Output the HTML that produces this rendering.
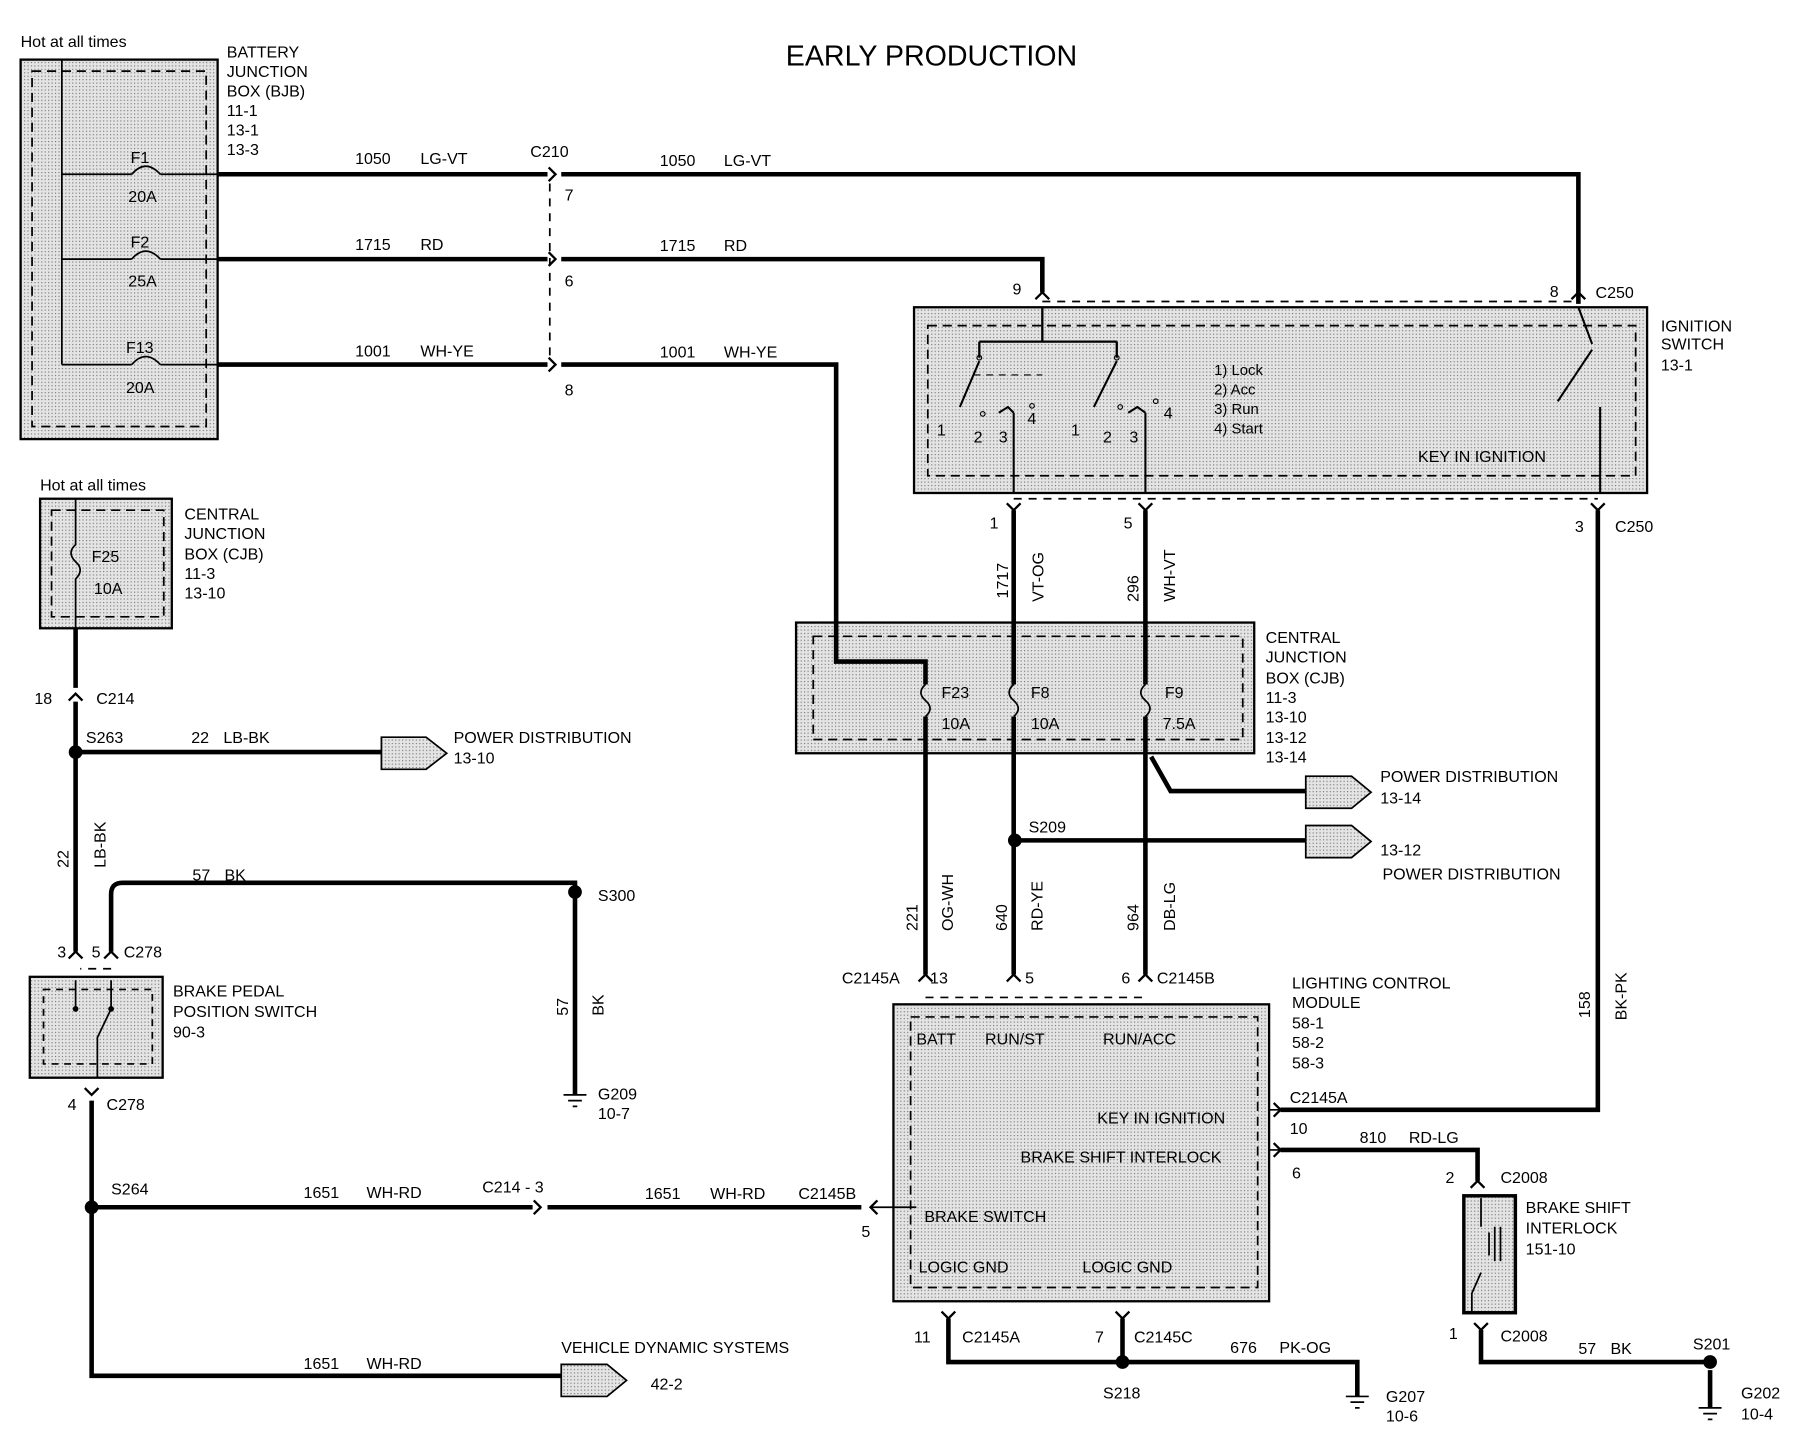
<!DOCTYPE html>
<html><head><style>
html,body{margin:0;padding:0;background:#fff;}
svg{display:block;}
text{font-family:"Liberation Sans",sans-serif;font-size:14px;fill:#000;}
</style></head><body>
<svg width="1796" height="1440" viewBox="0 0 1568 1256" preserveAspectRatio="none" xmlns="http://www.w3.org/2000/svg">
<defs>
<pattern id="dots" width="3" height="3" patternUnits="userSpaceOnUse">
<rect width="3" height="3" fill="#e4e4e4"/><rect width="1" height="1" fill="#777"/>
</pattern>
</defs>
<g fill="none" stroke="#000">
<rect x="18" y="52" width="172" height="331" fill="url(#dots)" stroke-width="2"/>
<rect x="28" y="62" width="152" height="310" stroke-dasharray="8,5" stroke-width="1.5"/>
<rect x="35" y="435" width="115" height="113" fill="url(#dots)" stroke-width="2"/>
<rect x="45" y="445" width="98" height="93" stroke-dasharray="8,5" stroke-width="1.5"/>
<rect x="798" y="268" width="640" height="162" fill="url(#dots)" stroke-width="2"/>
<rect x="810" y="284" width="618" height="131" stroke-dasharray="8,5" stroke-width="1.5"/>
<rect x="695" y="543" width="400" height="114" fill="url(#dots)" stroke-width="2"/>
<rect x="710" y="555" width="375" height="90" stroke-dasharray="8,5" stroke-width="1.5"/>
<rect x="780" y="876" width="328" height="259" fill="url(#dots)" stroke-width="2"/>
<rect x="795" y="887" width="303" height="236" stroke-dasharray="8,5" stroke-width="1.5"/>
<rect x="26" y="852" width="116" height="88" fill="url(#dots)" stroke-width="2"/>
<rect x="38" y="863" width="95" height="65" stroke-dasharray="6,5" stroke-width="1.5"/>
<rect x="1278" y="1043" width="45" height="102" fill="url(#dots)" stroke-width="3"/>
<path d="M54 52V318M54 152H115M140 152H190M54 226H115M140 226H190M54 318H115M140 318H190" stroke-width="1.5"/>
<path d="M115 152q12-14 25 0M115 226q12-14 25 0M115 318q12-14 25 0" stroke-width="1.5"/>
<g stroke-width="4">
<path d="M190 152H478M490 152H1378V265"/>
<path d="M190 226H478M490 226H910V255"/>
<path d="M190 318H478M490 318H730V577H808V597"/>
<path d="M885 445V597M885 625V850"/>
<path d="M1000 445V597M1000 625V850"/>
<path d="M808 625V850"/>
<path d="M1395 445V968H1118"/>
<path d="M1005 660L1022 690H1140"/>
<path d="M886 733H1140"/>
<path d="M1118 1003H1290V1030"/>
<path d="M1293 1160V1188H1493M1493 1195V1228"/>
<path d="M828 1150V1188H1185V1218"/>
<path d="M980 1150V1188"/>
<path d="M66 548V600M66 612V830"/>
<path d="M66 656H333"/>
<path d="M97 830V780q0-10 10-10H502V955"/>
<path d="M80 960V1200H490"/>
<path d="M80 1053H465M478 1053H752"/>
</g>
<path d="M66 435V475q-8 7 0 15q8 7 0 15V548" stroke-width="1.5"/>
<path d="M808 597q-8 7 0 14q8 7 0 14M885 597q-8 7 0 14q8 7 0 14M1000 597q-8 7 0 14q8 7 0 14" stroke-width="1.5"/>
<path d="M480 160V316" stroke-dasharray="7,6" stroke-width="1.5"/>
<path d="M910 263H1378M885 435H1395M808 870H1000M97 845H70" stroke-dasharray="7,6" stroke-width="1.5"/>
<path d="M910 268V298M855 298H975M855 298V312M975 298V312" stroke-width="2"/>
<path d="M855 315L838 355M975 315L955 355M1390 300L1378 268M1390 305L1360 350M1397 355V430M885 360L880 355L872 360M885 360V430M1000 360L993 355L985 360M1000 360V430" stroke-width="1.8"/>
<path d="M850 327H910" stroke-dasharray="6,5"/>
<circle cx="858" cy="361" r="2"/><circle cx="901" cy="354" r="2"/><circle cx="978" cy="355" r="2"/><circle cx="1009" cy="350" r="2"/><circle cx="855" cy="312" r="2"/><circle cx="975" cy="312" r="2"/>
<g stroke-width="2">
<path d="M479 146l6 6-6 6M479 220l6 6-6 6M479 312l6 6-6 6"/>
<path d="M904 261l6-6 6 6M1372 261l6-6 6 6"/>
<path d="M879 439l6 6 6-6M994 439l6 6 6-6M1389 439l6 6 6-6"/>
<path d="M802 856l6-6 6 6M879 856l6-6 6 6M994 856l6-6 6 6"/>
<path d="M1112 962l6 6-6 6M1112 997l6 6-6 6"/>
<path d="M1284 1036l6-6 6 6M1287 1154l6 6 6-6"/>
<path d="M822 1144l6 6 6-6M974 1144l6 6 6-6"/>
<path d="M60 611l6-6 6 6M60 836l6-6 6 6M91 836l6-6 6 6M74 949l6 6 6-6"/>
<path d="M466 1047l6 6-6 6M766 1047l-6 6 6 6"/>
</g>
<path d="M66 855V880M97 855V880L85 905V940M1108 968H1118M1108 1003H1118M760 1053H800" stroke-width="1.5"/>
<path d="M1293 1045V1070M1293 1110L1285 1128V1145M1300 1075v20M1305 1070v30M1310 1070v30" stroke-width="1.5"/>
<path d="M333 643H372L390 657L372 671H333Z" fill="url(#dots)" stroke-width="1.5"/>
<path d="M1140 677H1180L1197 691L1180 705H1140Z" fill="url(#dots)" stroke-width="1.5"/>
<path d="M1140 720H1180L1197 734L1180 748H1140Z" fill="url(#dots)" stroke-width="1.5"/>
<path d="M490 1190H530L547 1204L530 1218H490Z" fill="url(#dots)" stroke-width="1.5"/>
<path d="M492 955H512M496 960H508M500 965H504M1175 1218H1195M1179 1223H1191M1183 1228H1187M1483 1228H1503M1487 1233H1499M1491 1238H1495" stroke-width="1.5"/>
</g>
<g fill="#000">
<circle cx="66" cy="656" r="6"/><circle cx="502" cy="778" r="6"/><circle cx="886" cy="733" r="6"/>
<circle cx="80" cy="1053" r="6"/><circle cx="980" cy="1188" r="6"/><circle cx="1493" cy="1188" r="6"/>
<circle cx="66" cy="880" r="2.5"/><circle cx="97" cy="880" r="2.5"/>
</g>
<text x="686" y="57" style="font-size:25px">EARLY PRODUCTION</text>
<text x="18" y="41">Hot at all times</text>
<text x="198" y="50">BATTERY</text><text x="198" y="67">JUNCTION</text><text x="198" y="84">BOX (BJB)</text><text x="198" y="101">11-1</text><text x="198" y="118">13-1</text><text x="198" y="135">13-3</text>
<text x="114" y="142">F1</text><text x="112" y="176">20A</text>
<text x="114" y="216">F2</text><text x="112" y="250">25A</text>
<text x="110" y="308">F13</text><text x="110" y="343">20A</text>
<text x="310" y="143">1050</text><text x="367" y="143">LG-VT</text>
<text x="463" y="137">C210</text>
<text x="576" y="145">1050</text><text x="632" y="145">LG-VT</text>
<text x="310" y="218">1715</text><text x="367" y="218">RD</text>
<text x="576" y="219">1715</text><text x="632" y="219">RD</text>
<text x="310" y="311">1001</text><text x="367" y="311">WH-YE</text>
<text x="576" y="312">1001</text><text x="632" y="312">WH-YE</text>
<text x="493" y="175">7</text><text x="493" y="250">6</text><text x="493" y="345">8</text>
<text x="884" y="257">9</text><text x="1353" y="259">8</text><text x="1393" y="260">C250</text>
<text x="1450" y="289">IGNITION</text><text x="1450" y="305">SWITCH</text><text x="1450" y="323">13-1</text>
<text x="1060" y="327" style="font-size:13px">1) Lock</text><text x="1060" y="344" style="font-size:13px">2) Acc</text><text x="1060" y="361" style="font-size:13px">3) Run</text><text x="1060" y="378" style="font-size:13px">4) Start</text>
<text x="818" y="380">1</text><text x="850" y="386">2</text><text x="872" y="386">3</text><text x="897" y="370">4</text>
<text x="935" y="380">1</text><text x="963" y="386">2</text><text x="986" y="386">3</text><text x="1016" y="365">4</text>
<text x="1238" y="403">KEY IN IGNITION</text>
<text x="864" y="461">1</text><text x="981" y="461">5</text><text x="1375" y="464">3</text><text x="1410" y="464">C250</text>
<text transform="translate(880,522) rotate(-90)">1717</text><text transform="translate(911,525) rotate(-90)">VT-OG</text>
<text transform="translate(994,525) rotate(-90)">296</text><text transform="translate(1026,525) rotate(-90)">WH-VT</text>
<text x="1105" y="561">CENTRAL</text><text x="1105" y="578">JUNCTION</text><text x="1105" y="596">BOX (CJB)</text><text x="1105" y="613">11-3</text><text x="1105" y="630">13-10</text><text x="1105" y="648">13-12</text><text x="1105" y="665">13-14</text>
<text x="822" y="609">F23</text><text x="822" y="636">10A</text><text x="900" y="609">F8</text><text x="900" y="636">10A</text><text x="1017" y="609">F9</text><text x="1015" y="636">7.5A</text>
<text x="1205" y="682">POWER DISTRIBUTION</text><text x="1205" y="701">13-14</text>
<text x="898" y="726">S209</text>
<text x="1205" y="746">13-12</text><text x="1207" y="767">POWER DISTRIBUTION</text>
<text transform="translate(801,812) rotate(-90)">221</text><text transform="translate(832,812) rotate(-90)">OG-WH</text>
<text transform="translate(879,812) rotate(-90)">640</text><text transform="translate(910,812) rotate(-90)">RD-YE</text>
<text transform="translate(994,812) rotate(-90)">964</text><text transform="translate(1026,812) rotate(-90)">DB-LG</text>
<text transform="translate(1388,888) rotate(-90)">158</text><text transform="translate(1420,890) rotate(-90)">BK-PK</text>
<text x="735" y="858">C2145A</text><text x="812" y="858">13</text><text x="895" y="858">5</text><text x="979" y="858">6</text><text x="1010" y="858">C2145B</text>
<text x="1128" y="862">LIGHTING  CONTROL</text><text x="1128" y="879">MODULE</text><text x="1128" y="897">58-1</text><text x="1128" y="914">58-2</text><text x="1128" y="932">58-3</text>
<text x="800" y="911">BATT</text><text x="860" y="911">RUN/ST</text><text x="963" y="911">RUN/ACC</text>
<text x="958" y="980">KEY IN IGNITION</text><text x="891" y="1014">BRAKE SHIFT INTERLOCK</text>
<text x="807" y="1066">BRAKE SWITCH</text><text x="802" y="1110">LOGIC GND</text><text x="945" y="1110">LOGIC GND</text>
<text x="1126" y="962">C2145A</text><text x="1126" y="989">10</text><text x="1128" y="1028">6</text>
<text x="1187" y="997">810</text><text x="1230" y="997">RD-LG</text>
<text x="1262" y="1032">2</text><text x="1310" y="1032">C2008</text>
<text x="1332" y="1058">BRAKE SHIFT</text><text x="1332" y="1076">INTERLOCK</text><text x="1332" y="1094">151-10</text>
<text x="1265" y="1168">1</text><text x="1310" y="1170">C2008</text>
<text x="1378" y="1181">57</text><text x="1406" y="1181">BK</text><text x="1478" y="1177">S201</text>
<text x="1520" y="1220">G202</text><text x="1520" y="1238">10-4</text>
<text x="798" y="1171">11</text><text x="840" y="1171">C2145A</text><text x="956" y="1171">7</text><text x="990" y="1171">C2145C</text>
<text x="1074" y="1180">676</text><text x="1117" y="1180">PK-OG</text>
<text x="963" y="1220">S218</text><text x="1210" y="1223">G207</text><text x="1210" y="1240">10-6</text>
<text x="697" y="1046">C2145B</text><text x="752" y="1079">5</text>
<text x="35" y="428">Hot at all times</text>
<text x="161" y="453">CENTRAL</text><text x="161" y="470">JUNCTION</text><text x="161" y="488">BOX (CJB)</text><text x="161" y="505">11-3</text><text x="161" y="522">13-10</text>
<text x="80" y="490">F25</text><text x="82" y="518">10A</text>
<text x="30" y="614">18</text><text x="84" y="614">C214</text>
<text x="75" y="648">S263</text><text x="167" y="648">22</text><text x="195" y="648">LB-BK</text>
<text x="396" y="648">POWER DISTRIBUTION</text><text x="396" y="666">13-10</text>
<text transform="translate(60,757) rotate(-90)">22</text><text transform="translate(92,757) rotate(-90)">LB-BK</text>
<text x="168" y="768">57</text><text x="196" y="768">BK</text><text x="522" y="786">S300</text>
<text transform="translate(496,886) rotate(-90)">57</text><text transform="translate(527,886) rotate(-90)">BK</text>
<text x="522" y="959">G209</text><text x="522" y="976">10-7</text>
<text x="50" y="835">3</text><text x="80" y="835">5</text><text x="108" y="835">C278</text>
<text x="151" y="869">BRAKE PEDAL</text><text x="151" y="887">POSITION SWITCH</text><text x="151" y="905">90-3</text>
<text x="59" y="968">4</text><text x="93" y="968">C278</text>
<text x="97" y="1042">S264</text>
<text x="265" y="1045">1651</text><text x="320" y="1045">WH-RD</text><text x="421" y="1040">C214  -  3</text>
<text x="563" y="1046">1651</text><text x="620" y="1046">WH-RD</text>
<text x="265" y="1194">1651</text><text x="320" y="1194">WH-RD</text>
<text x="490" y="1180">VEHICLE DYNAMIC SYSTEMS</text><text x="568" y="1212">42-2</text>
</svg>
</body></html>
